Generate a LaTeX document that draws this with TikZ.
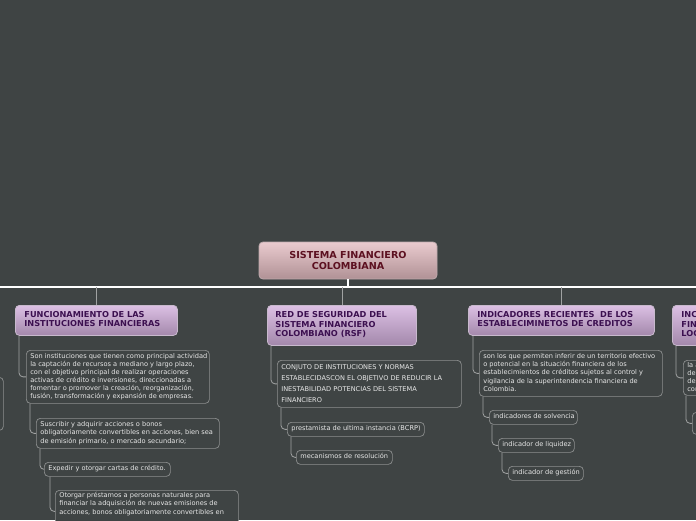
\documentclass[tikz,border=0pt]{standalone}
\usepackage{fontspec}
\setmainfont{DejaVu Sans}
\definecolor{bg}{RGB}{63,68,68}
\definecolor{roottop}{RGB}{234,203,207}
\definecolor{rootbot}{RGB}{176,145,149}
\definecolor{rootedge}{RGB}{190,170,173}
\definecolor{roottext}{RGB}{92,16,32}
\definecolor{topictop}{RGB}{220,192,228}
\definecolor{topicbot}{RGB}{163,136,171}
\definecolor{topicedge}{RGB}{200,185,205}
\definecolor{topictext}{RGB}{60,16,80}
\definecolor{subedge}{RGB}{140,142,142}
\definecolor{subtext}{RGB}{232,232,232}
\definecolor{linkcol}{RGB}{160,162,162}
\newcommand{\txtblock}[2]{\makebox[#1][l]{\begin{tabular}{@{}l@{}}#2\end{tabular}}}
\begin{document}
\begin{tikzpicture}[x=1pt,y=-1pt,
  root/.style={draw=rootedge, rounded corners=4pt, top color=roottop, bottom color=rootbot,
    text=roottext, font=\bfseries\fontsize{9.6}{10.5}\selectfont, align=center,
    minimum width=178pt, minimum height=37pt, inner sep=0pt, line width=0.8pt},
  topic/.style={draw=topicedge, rounded corners=4pt, top color=topictop, bottom color=topicbot,
    text=topictext, font=\bfseries\fontsize{8.2}{9.3}\selectfont,
    anchor=north west, inner xsep=9pt, inner ysep=0pt, line width=0.8pt},
  sub/.style={draw=subedge, rounded corners=4pt, fill=bg, text=subtext,
    font=\fontsize{6.6}{8.1}\selectfont, anchor=north west,
    inner xsep=4pt, inner ysep=0pt, line width=0.7pt},
  link/.style={draw=linkcol, line width=0.8pt, rounded corners=4pt},
  bar/.style={draw=white, line width=1.2pt},
]
\useasboundingbox (0,0) rectangle (696,520);
\clip (0,0) rectangle (696,520);
\fill[bg] (0,0) rectangle (696,520);

% root
\node[root] (root) at (348,260.5) {SISTEMA FINANCIERO\\COLOMBIANA};
\coordinate (barL) at (0,287);
\coordinate (barR) at (696,287);
\draw[bar] (barL) -- (barR);
\draw[bar] (root.south) -- (root.south |- barL);

% main topics
\node[topic, minimum height=30pt] (t1) at (15,305)
  {\txtblock{144pt}{FUNCIONAMIENTO DE LAS\\INSTITUCIONES FINANCIERAS}};
\node[topic, minimum height=40pt, inner xsep=8pt] (t2) at (267,305)
  {\txtblock{133pt}{RED DE SEGURIDAD DEL\\SISTEMA FINANCIERO\\COLOMBIANO (RSF)}};
\node[topic, minimum height=30pt] (t3) at (468,305)
  {\txtblock{168pt}{INDICADORES RECIENTES\ \ DE LOS\\ESTABLECIMINETOS DE CREDITOS}};
\node[topic, minimum height=40pt] (t4) at (672,305)
  {\txtblock{132pt}{INC\\FIN\\LOG}};

\draw[link] (t1.north) -- (t1.north |- barL);
\draw[link] (t2.north) -- (t2.north |- barL);
\draw[link] (t3.north) -- (t3.north |- barL);

% subtree 1
\node[sub, minimum height=53pt] (s11) at (26,350)
  {\txtblock{175pt}{Son instituciones que tienen como principal actividad\\
   la captación de recursos a mediano y largo plazo,\\
   con el objetivo principal de realizar operaciones\\
   activas de crédito e inversiones, direccionadas a\\
   fomentar o promover la creación, reorganización,\\
   fusión, transformación y expansión de empresas.}};
\node[sub, minimum height=30pt] (s12) at (36,418)
  {\txtblock{175pt}{Suscribir y adquirir acciones o bonos\\
   obligatoriamente convertibles en acciones, bien sea\\
   de emisión primario, o mercado secundario;}};
\node[sub, minimum height=14pt] (s13) at (44,462)
  {\txtblock{118pt}{Expedir y otorgar cartas de crédito.}};
\node[sub, minimum height=36pt] (s14) at (55,490)
  {\txtblock{175pt}{Otorgar préstamos a personas naturales para\\
   financiar la adquisición de nuevas emisiones de\\
   acciones, bonos obligatoriamente convertibles en\\
   \phantom{x}}};
\draw[link] ([xshift=4pt]t1.south west) |- (s11.west);
\draw[link] ([xshift=4pt]s11.south west) |- (s12.west);
\draw[link] ([xshift=4pt]s12.south west) |- (s13.west);
\draw[link] ([xshift=6pt]s13.south west) |- ([yshift=-3pt]s14.west);

% subtree 2
\node[sub, minimum height=47pt, font=\fontsize{6.6}{10.7}\selectfont] (s21) at (277,360)
  {\txtblock{176pt}{CONJUTO DE INSTITUCIONES Y NORMAS\\
   ESTABLECIDASCON EL OBJETIVO DE REDUCIR LA\\
   INESTABILIDAD POTENCIAS DEL SISTEMA\\
   FINANCIERO}};
\node[sub, minimum height=14pt] (s22) at (287,422)
  {\txtblock{129pt}{prestamista de ultima instancia (BCRP)}};
\node[sub, minimum height=14pt] (s23) at (296,450)
  {\txtblock{88pt}{mecanismos de resolución}};
\draw[link] ([xshift=4pt]t2.south west) |- (s21.west);
\draw[link] ([xshift=4pt]s21.south west) |- (s22.west);
\draw[link] ([xshift=4pt]s22.south west) |- (s23.west);

% subtree 3
\node[sub, minimum height=46pt] (s31) at (479,350)
  {\txtblock{175pt}{son los que permiten inferir de un territorio efectivo\\
   o potencial en la situación financiera de los\\
   establecimientos de créditos sujetos al control y\\
   vigilancia de la superintendencia financiera de\\
   Colombia.}};
\node[sub, minimum height=14pt] (s32) at (489,410)
  {\txtblock{80pt}{indicadores de solvencia}};
\node[sub, minimum height=14pt] (s33) at (498,438)
  {\txtblock{68pt}{indicador de liquidez}};
\node[sub, minimum height=14pt] (s34) at (508,466)
  {\txtblock{67pt}{indicador de gestión}};
\draw[link] ([xshift=5pt]t3.south west) |- (s31.west);
\draw[link] ([xshift=4pt]s31.south west) |- (s32.west);
\draw[link] ([xshift=3pt]s32.south west) |- (s33.west);
\draw[link] ([xshift=4pt]s33.south west) |- (s34.west);

% subtree 4 (cut at right edge)
\node[sub, minimum height=35pt] (s41) at (683,360)
  {\txtblock{92pt}{la a\\de\\des\\con}};
\node[sub, minimum height=22pt] (s42) at (692,412) {\txtblock{52pt}{}};
\draw[link] ([xshift=4pt]t4.south west) |- (s41.west);
\draw[link] ([xshift=3pt]s41.south west) |- (s42.west);

% partial box at left edge
\node[sub, minimum height=53pt] (s0) at (-100,377) {\txtblock{95pt}{}};
\end{tikzpicture}
\end{document}
